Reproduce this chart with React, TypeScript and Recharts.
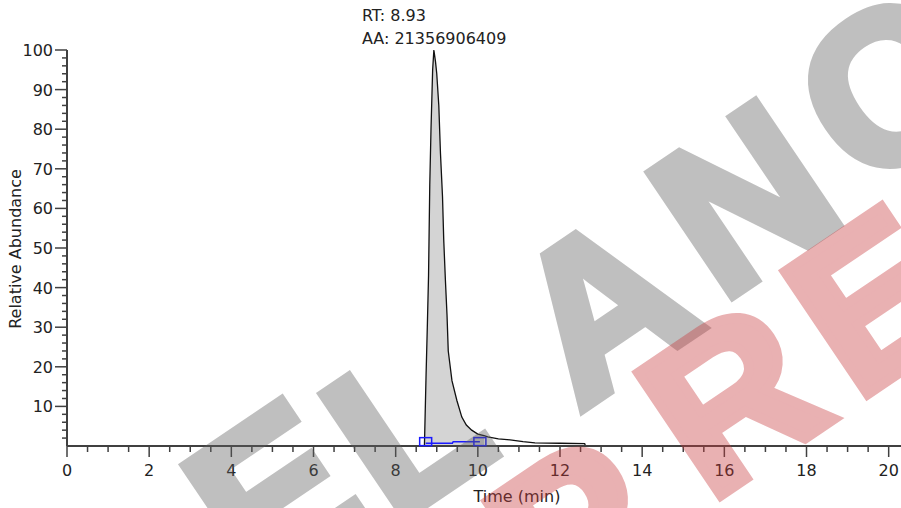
import React from 'react';
import { Area, ComposedChart, Line, ReferenceDot, Scatter, XAxis, YAxis } from 'recharts';

// chromatogram trace
const times = [
  0, 8.7, 8.74, 8.77, 8.8, 8.83, 8.86, 8.9, 8.93, 8.97, 9.0, 9.05, 9.09, 9.14, 9.17, 9.21, 9.25,
  9.28, 9.37, 9.49, 9.61, 9.72, 9.85, 10.0, 10.15, 10.24, 10.5, 10.83, 11.1, 11.39, 12.0, 12.6,
  12.62, 20,
];
const abundance = [
  0, 0, 18, 30, 43, 66, 80, 95, 100, 97, 94, 86, 74, 63, 52, 42, 33, 24, 16.5, 11.5, 7.3, 5.3,
  4.0, 3.0, 2.6, 2.3, 1.8, 1.5, 1.1, 0.8, 0.7, 0.6, 0, 0,
];
const peakRange = [8.7, 10.15];

// integration baseline and its end markers
const baseTimes = [8.73, 9.38, 9.4, 10.05];
const baseValues = [0.7, 0.7, 1.1, 1.1];
const markerTimes = [8.73, 10.05];
const markerValues = [1.1, 1.1];

const peakRT = '8.93';
const peakArea = '21356906409';

const xMajor = [0, 2, 4, 6, 8, 10, 12, 14, 16, 18, 20];
const xMinorStep = 0.5;
const yMajor = [10, 20, 30, 40, 50, 60, 70, 80, 90, 100];
const yMinorStep = 2;

const xTicks = Array.from({ length: 20 / xMinorStep + 1 }, (_, i) => i * xMinorStep);
const yTicks = Array.from({ length: 100 / yMinorStep }, (_, i) => (i + 1) * yMinorStep);

const rows = times.map((t, i) => ({
  t,
  a: abundance[i],
  f: t >= peakRange[0] && t <= peakRange[1] ? abundance[i] : null,
}));
const baseRows = baseTimes.map((t, i) => ({ t, b: baseValues[i] }));
const markerRows = markerTimes.map((t, i) => ({ t, m: markerValues[i] }));

// watermark letters (centre points on the page)
const greyMark = [
  { ch: 'E', x: 272, y: 492 },
  { ch: 'L', x: 405, y: 424 },
  { ch: 'A', x: 600, y: 304 },
  { ch: 'N', x: 742, y: 196 },
  { ch: 'C', x: 885, y: 86 },
];
const redMark = [
  { ch: 'P', x: 574, y: 528 },
  { ch: 'R', x: 730, y: 396 },
  { ch: 'E', x: 872, y: 298 },
];

const FONT = '"DejaVu Sans", sans-serif';
const INK = '#222';
const AXIS = '#404040';

function XTick(props: any) {
  const { x, y, payload } = props;
  const major = xMajor.includes(payload.value);
  return (
    <g>
      <line x1={x} x2={x} y1={y} y2={y + (major ? 11 : 6)} stroke={AXIS} strokeWidth={1.5} />
      {major && (
        <text x={x} y={y + 30} textAnchor="middle" fontFamily={FONT} fontSize={16} fill={INK}>
          {payload.value}
        </text>
      )}
    </g>
  );
}

function YTick(props: any) {
  const { x, y, payload } = props;
  const major = yMajor.includes(payload.value);
  return (
    <g>
      <line x1={x - (major ? 12 : 5)} x2={x} y1={y} y2={y} stroke={AXIS} strokeWidth={1.5} />
      {major && (
        <text x={x - 14} y={y + 6} textAnchor="end" fontFamily={FONT} fontSize={16} fill={INK}>
          {payload.value}
        </text>
      )}
    </g>
  );
}

function Marker(props: any) {
  const { cx, cy } = props;
  return <rect x={cx - 6} y={cy - 4} width={12} height={8} fill="none" stroke="#1a1aff" strokeWidth={1.5} />;
}

function PeakLabel(props: any) {
  const x = props.viewBox.x - 72;
  return (
    <g fontFamily={FONT} fontSize={16} fill={INK}>
      <text x={x} y={21}>RT: {peakRT}</text>
      <text x={x} y={43.5}>AA: {peakArea}</text>
    </g>
  );
}

function Letters({ items, color }: { items: { ch: string; x: number; y: number }[]; color: string }) {
  return (
    <g opacity={0.4} fill={color} stroke={color} strokeWidth={10} strokeLinejoin="miter">
      {items.map((l, i) => (
        <text
          key={i}
          x={l.x}
          y={l.y}
          dy="0.36em"
          textAnchor="middle"
          transform={`rotate(-34 ${l.x} ${l.y})`}
        >
          {l.ch}
        </text>
      ))}
    </g>
  );
}

function Watermark() {
  return (
    <svg
      width={901}
      height={508}
      style={{ position: 'absolute', left: 0, top: 0, pointerEvents: 'none' }}
    >
      <g fontFamily='"Liberation Sans", sans-serif' fontWeight={700} fontSize={215}>
        <Letters items={greyMark} color="#606060" />
        <Letters items={redMark} color="#c83c40" />
      </g>
    </svg>
  );
}

export default function App() {
  return (
    <div style={{ position: 'absolute', left: 0, top: 0, width: 901, height: 508, background: '#fff', overflow: 'hidden' }}>
      <ComposedChart width={901} height={508} data={rows} margin={{ top: 50, right: 0, bottom: 0, left: 0 }}>
        <XAxis
          dataKey="t"
          type="number"
          domain={[0, 20.3]}
          allowDataOverflow
          ticks={xTicks}
          interval={0}
          tickSize={0}
          tickMargin={0}
          tickLine={false}
          axisLine={{ stroke: AXIS, strokeWidth: 2 }}
          tick={<XTick />}
          height={62}
          label={() => (
            <text x={517} y={502} textAnchor="middle" fontFamily={FONT} fontSize={16} fill={INK}>
              Time (min)
            </text>
          )}
        />
        <YAxis
          type="number"
          domain={[0, 100]}
          ticks={yTicks}
          interval={0}
          tickSize={0}
          tickMargin={0}
          tickLine={false}
          axisLine={{ stroke: AXIS, strokeWidth: 2 }}
          tick={<YTick />}
          width={67}
          label={() => (
            <text
              x={21}
              y={249}
              transform="rotate(-90 21 249)"
              textAnchor="middle"
              fontFamily={FONT}
              fontSize={16}
              fill={INK}
            >
              Relative Abundance
            </text>
          )}
        />
        <Area
          dataKey="f"
          type="linear"
          fill="#d4d4d4"
          fillOpacity={1}
          stroke="none"
          isAnimationActive={false}
        />
        <Line
          data={baseRows}
          dataKey="b"
          type="linear"
          stroke="#1a1aff"
          strokeWidth={1.5}
          dot={false}
          isAnimationActive={false}
        />
        <Line dataKey="a" type="linear" stroke="#111" strokeWidth={1.3} dot={false} isAnimationActive={false} />
        <Scatter data={markerRows} dataKey="m" shape={<Marker />} isAnimationActive={false} />
        <ReferenceDot x={8.93} y={100} r={0} stroke="none" label={<PeakLabel />} />
      </ComposedChart>
      <Watermark />
    </div>
  );
}
